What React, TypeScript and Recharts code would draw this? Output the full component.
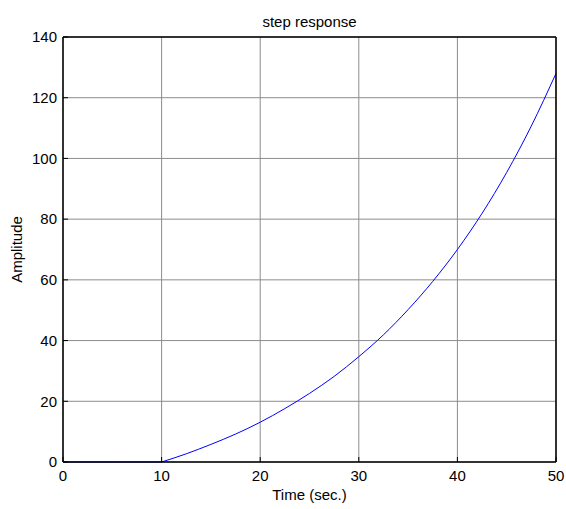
import React from 'react';
import { LineChart, Line, XAxis, YAxis, CartesianGrid, Label } from 'recharts';

// flat part before the step, then the rising response
const timeSec = [0, 5, 10, 12.5, 15, 17.5, 20, 22.5, 25, 27.5, 30, 32.5, 35, 37.5, 40, 42.5, 45, 47.5, 50];
const flatPart = [0, 0, 0, null, null, null, null, null, null, null, null, null, null, null, null, null, null, null, null];
const amplitude = [null, null, 0, 2.7, 5.8, 9.2, 13.1, 17.6, 22.6, 28.2, 34.7, 41.9, 50.2, 59.5, 70.0, 81.9, 95.4, 110.7, 128];
const xTicks = [0, 10, 20, 30, 40, 50];
const yTicks = [0, 20, 40, 60, 80, 100, 120, 140];

const data = timeSec.map((t, i) => ({ t, flat: flatPart[i], y: amplitude[i] }));

const font = '"Liberation Sans", Arial, sans-serif';
const tickStyle = { fill: '#000', fontSize: 15, fontFamily: font };
const axisStroke = { stroke: '#000', strokeWidth: 1.5 };

const App: React.FC = () => {
  return (
    <div style={{ position: 'absolute', left: 0, top: 0, width: 566, height: 509, background: '#fff', fontFamily: font }}>
      {/* title */}
      <div style={{ position: 'absolute', left: 63, width: 493, top: 13, textAlign: 'center', fontSize: 15, lineHeight: '17px', color: '#000' }}>
        step response
      </div>
      <LineChart width={566} height={509} data={data} margin={{ top: 36, right: 9, bottom: 0, left: 0 }}>
        <CartesianGrid stroke="#8c8c8c" />
        <XAxis
          dataKey="t"
          type="number"
          domain={[0, 50]}
          ticks={xTicks}
          height={47}
          tickSize={-5}
          tickMargin={13}
          tick={tickStyle}
          axisLine={axisStroke}
          tickLine={{ stroke: '#000' }}
        >
          <Label value="Time (sec.)" position="insideBottom" offset={9} style={{ fill: '#000', fontSize: 15, fontFamily: font }} />
        </XAxis>
        <XAxis
          xAxisId="top"
          orientation="top"
          dataKey="t"
          type="number"
          domain={[0, 50]}
          ticks={xTicks}
          height={1}
          tick={false}
          tickSize={-5}
          axisLine={axisStroke}
          tickLine={{ stroke: '#000' }}
        />
        <YAxis
          type="number"
          domain={[0, 140]}
          ticks={yTicks}
          width={63}
          tickSize={-5}
          tickMargin={11}
          tick={tickStyle}
          axisLine={axisStroke}
          tickLine={{ stroke: '#000' }}
        >
          <Label value="Amplitude" angle={-90} position="insideLeft" offset={17} style={{ fill: '#000', fontSize: 15, fontFamily: font, textAnchor: 'middle' }} />
        </YAxis>
        <YAxis
          yAxisId="right"
          orientation="right"
          type="number"
          domain={[0, 140]}
          ticks={yTicks}
          width={1}
          tick={false}
          tickSize={-5}
          axisLine={axisStroke}
          tickLine={{ stroke: '#000' }}
        />
        <Line type="linear" dataKey="flat" stroke="#0000ff" strokeWidth={1} dot={false} isAnimationActive={false} />
        <Line type="monotone" dataKey="y" stroke="#0000ff" strokeWidth={1} dot={false} isAnimationActive={false} />
      </LineChart>
    </div>
  );
};

export default App;
